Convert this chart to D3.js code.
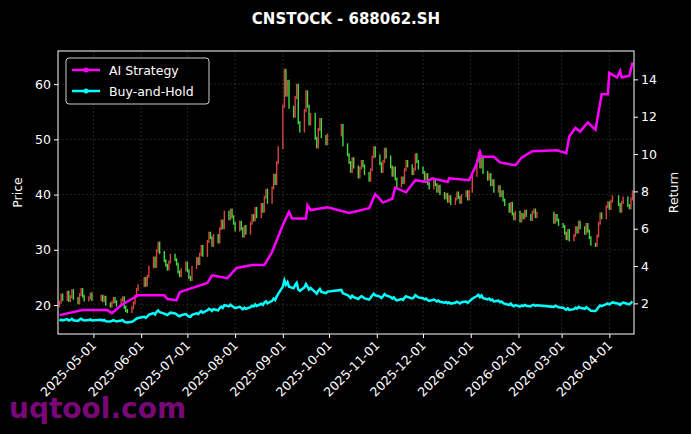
<!DOCTYPE html>
<html>
<head>
<script src="https://cdn.jsdelivr.net/npm/d3@7"></script>
<style>
  body { margin: 0; background: #000; }
  svg text { font-family: "DejaVu Sans", sans-serif; fill: #fff; }
</style>
</head>
<body>
<div id="chart"></div>
<script>
// holidays skipped when building the trading calendar
var holidays = ["2025-05-01","2025-05-02","2025-05-05","2025-06-02","2025-10-01","2025-10-02","2025-10-03",
  "2025-10-06","2025-10-07","2025-10-08","2026-01-01","2026-02-16","2026-02-17","2026-02-18","2026-02-19",
  "2026-02-20","2026-02-23","2026-04-06"];
var firstDay = "2025-04-09", lastDay = "2026-04-16";

// daily closes, month by month
var closes = [
  // Apr 2025
  20.5,21.8,21.0,22.3,20.8,21.5,22.6,21.2,20.4,21.9,22.8,21.6,20.9,21.3,22.0,21.0,
  // May
  21.6,20.8,21.4,20.2,19.8,20.5,21.2,20.6,20.0,20.9,21.3,19.6,19.0,18.8,19.5,20.4,21.6,22.8,23.5,
  // Jun
  24.8,23.6,25.2,26.9,28.5,27.0,29.8,31.2,29.5,28.0,27.2,26.5,27.8,29.0,28.2,27.4,26.0,25.3,26.4,27.6,
  // Jul
  26.2,25.0,24.6,26.8,28.4,27.5,29.2,30.6,29.0,31.5,33.0,32.2,30.8,32.6,31.4,33.8,35.2,34.0,36.8,35.6,37.2,36.0,34.8,
  // Aug
  33.6,35.0,33.8,32.5,34.2,33.0,34.8,36.2,35.4,37.5,36.0,38.2,37.0,39.5,40.8,38.6,41.2,43.5,42.0,45.8,48.5,
  // Sep
  56.0,62.5,58.0,60.5,55.8,54.2,57.6,59.8,53.0,51.5,55.2,58.6,56.0,52.8,54.5,50.2,48.6,51.8,53.6,50.5,49.2,50.8,
  // Oct
  52.5,49.0,47.2,45.8,44.2,46.5,45.0,43.2,44.8,46.0,45.2,43.8,42.6,44.5,46.8,48.5,47.0,
  // Nov
  45.6,44.2,46.0,48.2,46.8,45.0,43.5,44.8,42.8,41.6,43.0,42.2,44.5,46.0,45.2,43.8,44.6,47.2,46.0,44.8,
  // Dec
  44.0,42.8,43.6,42.0,41.2,42.5,41.8,40.6,41.5,40.2,39.4,40.0,38.8,39.6,38.4,39.2,40.3,39.5,38.6,39.8,40.5,39.2,40.6,
  // Jan 2026
  43.5,46.2,47.5,45.0,46.8,44.0,42.8,43.6,41.8,42.5,40.6,41.4,39.8,40.5,39.0,38.2,37.0,38.4,36.5,35.6,36.8,
  // Feb
  35.2,36.4,35.8,37.0,36.2,35.5,36.8,37.2,36.0,36.6,35.0,36.2,35.4,34.6,
  // Mar
  34.2,33.0,32.0,33.5,31.8,32.6,34.0,33.2,35.0,34.0,33.0,34.6,33.4,32.2,31.0,30.8,32.5,34.8,36.5,35.8,37.8,38.5,
  // Apr
  37.5,38.8,39.6,38.2,37.0,38.6,39.4,38.0,37.6,39.2,40.5
];
var bhBase = 19.3; // buy-and-hold entry price

// AI strategy cumulative return
var stratDates = ["2025-04-09","2025-04-24","2025-05-10","2025-05-13","2025-05-19","2025-05-30","2025-06-16","2025-06-18",
  "2025-06-24","2025-06-26","2025-07-14","2025-07-17","2025-07-27","2025-08-02","2025-08-12","2025-08-20","2025-08-25",
  "2025-09-01","2025-09-05","2025-09-07","2025-09-16","2025-09-17","2025-09-19","2025-09-30","2025-10-14","2025-10-27",
  "2025-10-31","2025-11-05","2025-11-11","2025-11-13","2025-11-20","2025-11-26","2025-12-03","2025-12-07","2025-12-17",
  "2025-12-18","2025-12-31","2026-01-05","2026-01-07","2026-01-08","2026-01-16","2026-01-20","2026-01-30","2026-02-03",
  "2026-02-10","2026-02-26","2026-03-04","2026-03-06","2026-03-10","2026-03-13","2026-03-18","2026-03-23","2026-03-27",
  "2026-03-31","2026-04-01","2026-04-06","2026-04-08","2026-04-09","2026-04-14","2026-04-16"];
var stratValues = [1.37,1.64,1.64,1.48,1.9,2.44,2.44,2.23,2.17,2.6,3.1,3.5,3.35,3.9,4.05,4.05,4.75,
  6.2,6.9,6.55,6.55,7.25,7.0,7.15,6.85,7.1,7.85,7.4,7.6,8.2,7.95,8.6,8.5,8.7,8.5,8.7,8.6,
  9.5,10.1,9.85,9.85,9.55,9.4,9.8,10.15,10.2,10.05,10.95,11.4,11.2,11.7,11.3,13.2,13.2,14.35,14.1,14.45,14.1,14.2,14.9];

var priceTicks = [20, 30, 40, 50, 60];
var returnTicks = [2, 4, 6, 8, 10, 12, 14];
var monthTicks = ["2025-05-01","2025-06-01","2025-07-01","2025-08-01","2025-09-01","2025-10-01","2025-11-01",
  "2025-12-01","2026-01-01","2026-02-01","2026-03-01","2026-04-01"];

var parse = d3.utcParse("%Y-%m-%d"), fmt = d3.utcFormat("%Y-%m-%d");

// trading calendar
var days = d3.utcDay.range(parse(firstDay), d3.utcDay.offset(parse(lastDay), 1))
  .filter(function(d) { var w = d.getUTCDay(); return w != 0 && w != 6 && holidays.indexOf(fmt(d)) < 0; });
var n = Math.min(days.length, closes.length);
var candles = [];
for (var i = 0; i < n; i++) {
  var open = i == 0 ? closes[0] - 0.6 : closes[i - 1];
  candles.push({ date: days[i], open: open, close: closes[i] });
}
var strat = stratDates.map(function(d, i) { return { date: parse(d), v: stratValues[i] }; });

var W = 691, H = 434;
var m = { left: 58, right: 57, top: 51, bottom: 100 };
var svg = d3.select("#chart").append("svg").attr("width", W).attr("height", H)
  .style("background", "#000");

var x = d3.scaleUtc().domain([parse("2025-04-08"), parse("2026-04-17")]).range([m.left, W - m.right]);
var yP = d3.scaleLinear().domain([14.75, 66.0]).range([H - m.bottom, m.top]);
var yR = d3.scaleLinear().domain([0.36, 15.52]).range([H - m.bottom, m.top]);

// grid
var grid = svg.append("g").attr("stroke", "#888").attr("stroke-opacity", 0.45)
  .attr("stroke-dasharray", "2,2").attr("stroke-width", 0.6);
monthTicks.forEach(function(t) {
  grid.append("line").attr("x1", x(parse(t))).attr("x2", x(parse(t)))
    .attr("y1", m.top).attr("y2", H - m.bottom);
});
priceTicks.forEach(function(t) {
  grid.append("line").attr("x1", m.left).attr("x2", W - m.right).attr("y1", yP(t)).attr("y2", yP(t));
});

// candles
svg.append("g").selectAll("line").data(candles).enter().append("line")
  .attr("x1", function(d) { return x(d.date); })
  .attr("x2", function(d) { return x(d.date); })
  .attr("y1", function(d) { return yP(Math.max(d.open, d.close)) - 1.5; })
  .attr("y2", function(d) { return yP(Math.min(d.open, d.close)) + 1.5; })
  .attr("stroke", function(d) { return d.close >= d.open ? "#ff4d4d" : "#4dff4d"; })
  .attr("stroke-width", 1.4)
  .attr("stroke-opacity", 0.85);

// return lines
var line = d3.line().x(function(d) { return x(d.date); }).y(function(d) { return yR(d.v); });
var bh = candles.map(function(d) { return { date: d.date, v: d.close / bhBase }; });
svg.append("path").datum(bh).attr("d", line).attr("fill", "none")
  .attr("stroke", "#00ffff").attr("stroke-width", 2.5);
svg.append("path").datum(strat).attr("d", line).attr("fill", "none")
  .attr("stroke", "#ff00ff").attr("stroke-width", 2.5);

// frame
svg.append("rect").attr("x", m.left).attr("y", m.top).attr("width", W - m.left - m.right)
  .attr("height", H - m.top - m.bottom).attr("fill", "none").attr("stroke", "#fff").attr("stroke-width", 1);

// axes
var xAxis = svg.append("g").attr("transform", "translate(0," + (H - m.bottom) + ")")
  .call(d3.axisBottom(x).tickValues(monthTicks.map(parse)).tickFormat(fmt).tickSize(4));
xAxis.selectAll("text").attr("transform", "rotate(-45)").style("text-anchor", "end")
  .attr("dx", "-0.5em").attr("dy", "0.3em");
var yAxisL = svg.append("g").attr("transform", "translate(" + m.left + ",0)")
  .call(d3.axisLeft(yP).tickValues(priceTicks).tickSize(4));
var yAxisR = svg.append("g").attr("transform", "translate(" + (W - m.right) + ",0)")
  .call(d3.axisRight(yR).tickValues(returnTicks).tickSize(4));
[xAxis, yAxisL, yAxisR].forEach(function(a) {
  a.select(".domain").remove();
  a.selectAll("line").attr("stroke", "#fff");
  a.selectAll("text").attr("font-size", 12.5).style("fill", "#fff");
});

// titles
svg.append("text").attr("x", 346).attr("y", 24).attr("text-anchor", "middle")
  .attr("font-size", 15).attr("font-weight", "bold").text("CNSTOCK - 688062.SH");
svg.append("text").attr("transform", "translate(22," + ((m.top + H - m.bottom) / 2) + ") rotate(-90)")
  .attr("text-anchor", "middle").attr("font-size", 12.5).text("Price");
svg.append("text").attr("transform", "translate(678," + ((m.top + H - m.bottom) / 2) + ") rotate(-90)")
  .attr("text-anchor", "middle").attr("font-size", 12.5).text("Return");

// legend
var lg = svg.append("g");
lg.append("rect").attr("x", 66).attr("y", 58).attr("width", 143).attr("height", 46).attr("rx", 3)
  .attr("fill", "#000").attr("stroke", "#ccc").attr("stroke-width", 1);
[["AI Strategy", "#ff00ff"], ["Buy-and-Hold", "#00ffff"]].forEach(function(e, i) {
  var yy = 70 + i * 21;
  lg.append("line").attr("x1", 72).attr("x2", 100).attr("y1", yy).attr("y2", yy)
    .attr("stroke", e[1]).attr("stroke-width", 2.5);
  lg.append("circle").attr("cx", 86).attr("cy", yy).attr("r", 2.5).attr("fill", e[1]);
  lg.append("text").attr("x", 109).attr("y", yy + 4.5).attr("font-size", 12.5).text(e[0]);
});

// watermark
svg.append("text").attr("x", 9).attr("y", 418).attr("font-size", 28).attr("font-weight", "bold")
  .style("fill", "#8a0a8a").style("fill-opacity", 0.9).text("uqtool.com");
</script>
</body>
</html>
